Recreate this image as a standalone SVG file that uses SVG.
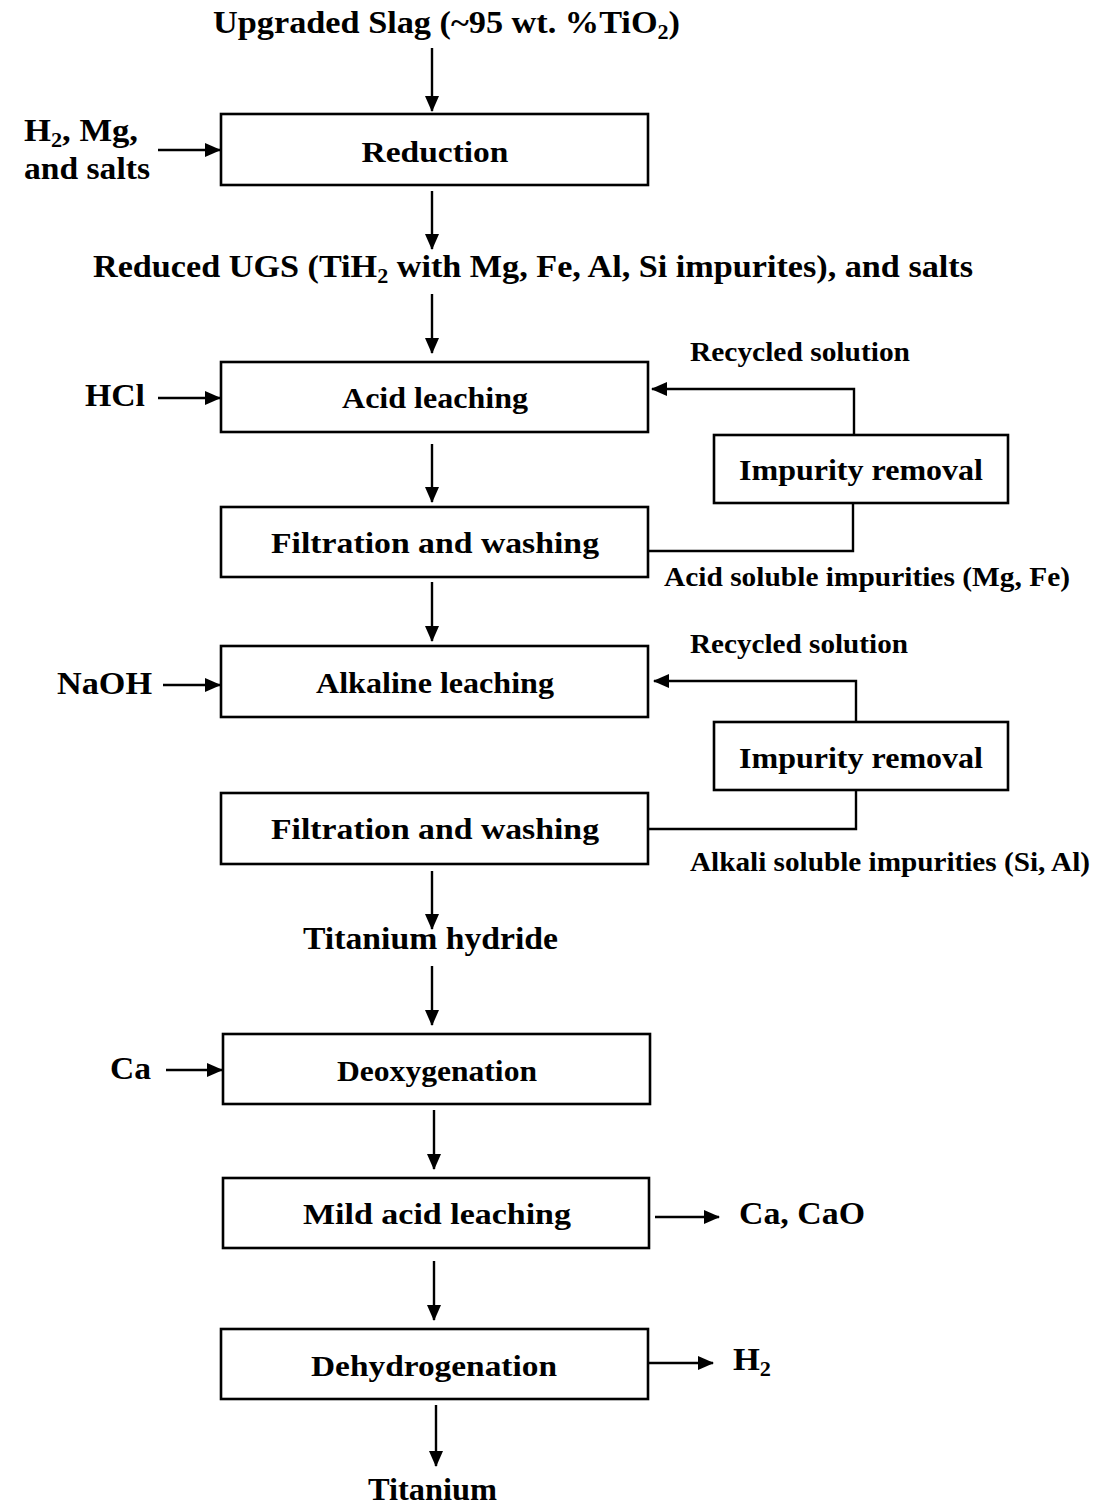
<svg xmlns="http://www.w3.org/2000/svg" width="1097" height="1506" viewBox="0 0 1097 1506">
<defs>
<marker id="ah" markerUnits="userSpaceOnUse" markerWidth="16" markerHeight="14" refX="15" refY="7" orient="auto">
<path d="M0,0 L16,7 L0,14 Z" fill="#000"/>
</marker>
<style>
.box{fill:#fff;stroke:#000;stroke-width:2.6}
.ln{fill:none;stroke:#000;stroke-width:2.4}
.ar{fill:none;stroke:#000;stroke-width:2.4;marker-end:url(#ah)}
text{font-family:"Liberation Serif","Times New Roman",serif;font-weight:bold;fill:#000}
.t{font-size:31px}
.b{font-size:29px;text-anchor:middle}
.s{font-size:27px}
.sub{font-size:20px}
</style>
</defs>
<rect width="1097" height="1506" fill="#fff"/>
<g id="connectors">
<line class="ar" x1="432" y1="48" x2="432" y2="111"/>
<line class="ar" x1="158" y1="150" x2="220" y2="150"/>
<line class="ar" x1="432" y1="191" x2="432" y2="249"/>
<line class="ar" x1="432" y1="294" x2="432" y2="353"/>
<line class="ar" x1="158" y1="398" x2="220" y2="398"/>
<polyline class="ar" points="854,435 854,389 652,389"/>
<polyline class="ln" points="853,503 853,551 648,551"/>
<line class="ar" x1="432" y1="444" x2="432" y2="502"/>
<line class="ar" x1="432" y1="582" x2="432" y2="641"/>
<line class="ar" x1="163" y1="685" x2="220" y2="685"/>
<polyline class="ar" points="856,722 856,681 654,681"/>
<polyline class="ln" points="856,790 856,829 648,829"/>
<line class="ar" x1="432" y1="871" x2="432" y2="929"/>
<line class="ar" x1="432" y1="966" x2="432" y2="1025"/>
<line class="ar" x1="166" y1="1070" x2="222" y2="1070"/>
<line class="ar" x1="434" y1="1110" x2="434" y2="1169"/>
<line class="ar" x1="655" y1="1217" x2="719" y2="1217"/>
<line class="ar" x1="434" y1="1261" x2="434" y2="1320"/>
<line class="ar" x1="648" y1="1363" x2="713" y2="1363"/>
<line class="ar" x1="436" y1="1405" x2="436" y2="1466"/>
</g>
<g id="n-top"><text class="t" x="213" y="33" textLength="467" lengthAdjust="spacingAndGlyphs">Upgraded Slag (~95 wt. %TiO<tspan class="sub" dy="6">2</tspan><tspan dy="-6">)</tspan></text></g>
<g id="n-inputs1"><text class="t" x="24" y="141" textLength="114" lengthAdjust="spacingAndGlyphs">H<tspan class="sub" dy="6">2</tspan><tspan dy="-6">, Mg,</tspan></text><text class="t" x="24" y="179" textLength="126" lengthAdjust="spacingAndGlyphs">and salts</text></g>
<g id="n-reduction"><rect class="box" x="221" y="114" width="427" height="71"/><text class="b" x="435" y="162" textLength="147" lengthAdjust="spacingAndGlyphs">Reduction</text></g>
<g id="n-reduced"><text class="t" x="93" y="277" textLength="880" lengthAdjust="spacingAndGlyphs">Reduced UGS (TiH<tspan class="sub" dy="6">2</tspan><tspan dy="-6"> with Mg, Fe, Al, Si impurites), and salts</tspan></text></g>
<g id="n-hcl"><text class="t" x="85" y="406" textLength="60" lengthAdjust="spacingAndGlyphs">HCl</text></g>
<g id="n-acid"><rect class="box" x="221" y="362" width="427" height="70"/><text class="b" x="435" y="408" textLength="186" lengthAdjust="spacingAndGlyphs">Acid leaching</text></g>
<g id="n-rec1"><text class="s" x="690" y="361" textLength="220" lengthAdjust="spacingAndGlyphs">Recycled solution</text></g>
<g id="n-imp1"><rect class="box" x="714" y="435" width="294" height="68"/><text class="b" x="861" y="480" textLength="244" lengthAdjust="spacingAndGlyphs">Impurity removal</text></g>
<g id="n-filt1"><rect class="box" x="221" y="507" width="427" height="70"/><text class="b" x="435" y="553" textLength="328" lengthAdjust="spacingAndGlyphs">Filtration and washing</text></g>
<g id="n-acidimp"><text class="s" x="664" y="586" textLength="406" lengthAdjust="spacingAndGlyphs">Acid soluble impurities (Mg, Fe)</text></g>
<g id="n-naoh"><text class="t" x="57" y="694" textLength="95" lengthAdjust="spacingAndGlyphs">NaOH</text></g>
<g id="n-alk"><rect class="box" x="221" y="646" width="427" height="71"/><text class="b" x="435" y="693" textLength="238" lengthAdjust="spacingAndGlyphs">Alkaline leaching</text></g>
<g id="n-rec2"><text class="s" x="690" y="653" textLength="218" lengthAdjust="spacingAndGlyphs">Recycled solution</text></g>
<g id="n-imp2"><rect class="box" x="714" y="722" width="294" height="68"/><text class="b" x="861" y="768" textLength="244" lengthAdjust="spacingAndGlyphs">Impurity removal</text></g>
<g id="n-filt2"><rect class="box" x="221" y="793" width="427" height="71"/><text class="b" x="435" y="839" textLength="328" lengthAdjust="spacingAndGlyphs">Filtration and washing</text></g>
<g id="n-alkimp"><text class="s" x="690" y="871" textLength="400" lengthAdjust="spacingAndGlyphs">Alkali soluble impurities (Si, Al)</text></g>
<g id="n-tih"><text class="t" x="303" y="949" textLength="255" lengthAdjust="spacingAndGlyphs">Titanium  hydride</text></g>
<g id="n-ca"><text class="t" x="110" y="1079" textLength="41" lengthAdjust="spacingAndGlyphs">Ca</text></g>
<g id="n-deox"><rect class="box" x="223" y="1034" width="427" height="70"/><text class="b" x="437" y="1081" textLength="200" lengthAdjust="spacingAndGlyphs">Deoxygenation</text></g>
<g id="n-mild"><rect class="box" x="223" y="1178" width="426" height="70"/><text class="b" x="437" y="1224" textLength="268" lengthAdjust="spacingAndGlyphs">Mild acid leaching</text></g>
<g id="n-cacao"><text class="t" x="739" y="1224" textLength="126" lengthAdjust="spacingAndGlyphs">Ca, CaO</text></g>
<g id="n-dehyd"><rect class="box" x="221" y="1329" width="427" height="70"/><text class="b" x="434" y="1376" textLength="246" lengthAdjust="spacingAndGlyphs">Dehydrogenation</text></g>
<g id="n-h2"><text class="t" x="733" y="1370" textLength="38" lengthAdjust="spacingAndGlyphs">H<tspan class="sub" dy="6">2</tspan></text></g>
<g id="n-ti"><text class="t" x="368" y="1500" textLength="129" lengthAdjust="spacingAndGlyphs">Titanium</text></g>
</svg>
